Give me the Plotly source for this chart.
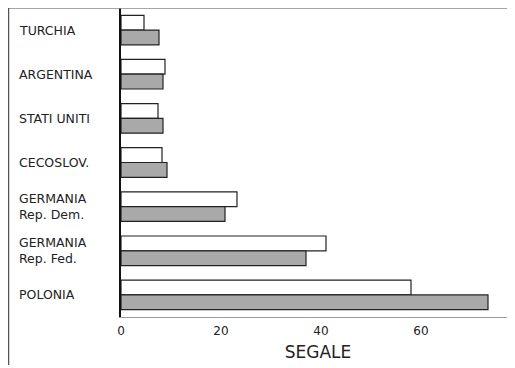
import plotly.graph_objects as go

categories = ["TURCHIA", "ARGENTINA", "STATI UNITI", "CECOSLOV.",
              "GERMANIA<br>Rep. Dem.", "GERMANIA<br>Rep. Fed.", "POLONIA"]
series_a = [4.6, 8.8, 7.4, 8.2, 23.2, 41.0, 58.0]   # white bars
series_b = [7.6, 8.4, 8.4, 9.2, 20.8, 37.0, 73.4]   # grey bars
tick_vals = [0, 20, 40, 60]
axis_title = "SEGALE"

W, H = 507, 360
L, B = 113, 51
PW, PH = W - L, H - B

fig = go.Figure()
fig.add_trace(go.Bar(y=categories, x=series_a, orientation="h",
                     marker=dict(color="white", line=dict(color="#222", width=1.2)),
                     showlegend=False))
fig.add_trace(go.Bar(y=categories, x=series_b, orientation="h",
                     marker=dict(color="#a9a9a9", line=dict(color="#222", width=1.2)),
                     showlegend=False))

for c in categories:
    fig.add_annotation(xref="paper", yref="y", x=(9 - L) / PW, y=c,
                       text=c, showarrow=False, xanchor="left", align="left",
                       font=dict(family="DejaVu Sans", size=12.5, color="#222"))

# outer frame lines (left and top)
fig.add_shape(type="line", xref="paper", yref="paper",
              x0=(0.5 - L) / PW, x1=1, y0=1, y1=1,
              line=dict(color="#888", width=1.5))
fig.add_shape(type="line", xref="paper", yref="paper",
              x0=(0.5 - L) / PW, x1=(0.5 - L) / PW, y0=1, y1=-48 / PH,
              line=dict(color="#555", width=1.5))

fig.update_layout(
    width=W, height=H,
    margin=dict(l=L, r=0, t=0, b=B, pad=0),
    paper_bgcolor="white", plot_bgcolor="white",
    barmode="group", bargap=0.33, bargroupgap=0.0,
    font=dict(family="DejaVu Sans", color="#222"),
    xaxis=dict(range=[0, 78.8], tickvals=tick_vals, showgrid=False, zeroline=False,
               showline=True, linecolor="#999", linewidth=1,
               ticks="outside", ticklen=3, tickcolor="rgba(0,0,0,0)",
               tickfont=dict(size=12),
               title=dict(text=axis_title, font=dict(size=17), standoff=8)),
    yaxis=dict(autorange="reversed", showticklabels=False, showgrid=False,
               showline=True, linecolor="#111", linewidth=2, ticks="", zeroline=False),
)

fig.write_html("out.html")
